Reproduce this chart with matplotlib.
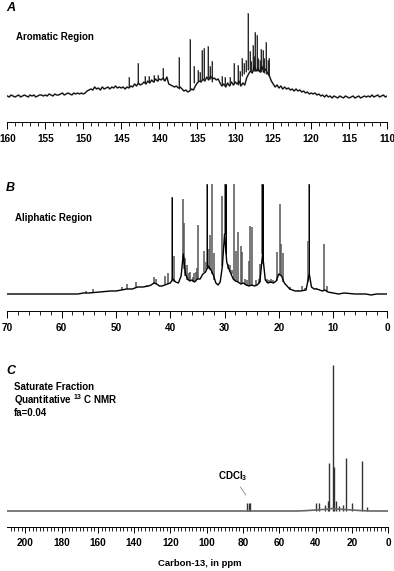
import matplotlib
matplotlib.use('Agg')
import numpy as np
import matplotlib.pyplot as plt
from matplotlib.ticker import MultipleLocator, FixedLocator

plt.rcParams['font.family'] = ['Liberation Sans', 'DejaVu Sans']
plt.rcParams['font.weight'] = 'bold'
plt.rcParams['mathtext.fontset'] = 'custom'
plt.rcParams['mathtext.bf'] = 'Liberation Sans:bold'

## Panel A - aromatic region, noisy trace read every 0.25 ppm
a_ppm = np.arange(160, 109.9, -0.25)
a_height = [0, -1, 1, 0, -1, 0, 1, -1, 0, 1, 0, -1, 1, 0, 1, -1, 0, 1, 1, 0,
            1, 0, 2, 1, 0, 2, 1, 1, 2, 3, 1, 2, 3, 2, 1, 3, 2, 3, 2, 3,
            2, 3, 5, 6, 7, 6, 9, 7, 8, 6, 9, 7, 8, 9, 7, 9, 8, 10, 8, 9,
            8, 9, 7, 9, 8, 10, 9, 12, 10, 13, 11, 12, 14, 12, 15, 13, 16, 14, 17, 15,
            17, 16, 18, 15, 19, 12, 11, 10, 9, 10, 8, 9, 7, 5, 6, 4, 5, 7, 6, 10,
            13, 15, 14, 17, 15, 19, 16, 20, 17, 18, 16, 17, 13, 10, 12, 9, 13, 10, 14, 11,
            14, 12, 15, 10, 13, 11, 18, 22, 25, 23, 30, 25, 28, 24, 30, 24, 27, 23, 20, 15,
            12, 9, 11, 8, 10, 7, 9, 7, 8, 6, 7, 5, 7, 5, 6, 4, 5, 3, 4, 2,
            3, 2, 3, 1, 2, 0, 1, -1, 1, -1, 0, -2, 0, -1, -2, 0, -1, -2, 0, -1,
            -2, -1, 0, -2, -1, 0, -2, -1, 0, -1, 0, -1, 1, -1, 0, 1, -1, 0, 1, -1, 0]
a_peak_ppm = [144.0, 142.75, 141.9, 141.3, 140.7, 140.2, 139.45, 137.4, 135.9, 135.4, 134.9, 134.7, 134.4, 134.05,
              133.6, 133.3, 133.05, 131.7, 131.3, 130.7, 130.2, 129.7, 129.4, 129.15, 128.9, 128.6, 128.35,
              128.1, 127.9, 127.7, 127.5, 127.35, 127.1, 126.95, 126.75, 126.6, 126.4, 126.2, 125.9, 125.75, 125.6]
a_peak_top = [19, 33, 20, 20, 21, 21, 28, 39, 57, 30, 26, 24, 46, 48,
              50, 30, 35, 20, 19, 19, 33, 31, 25, 38, 33, 36, 83,
              45, 35, 51, 40, 64, 61, 38, 36, 47, 46, 38, 54, 36, 38]
a_peak_base = [9, 12, 13, 14, 14, 15, 16, 7, 6, 13, 15, 15, 16, 17,
               18, 17, 14, 11, 11, 11, 12, 11, 12, 20, 22, 24, 26,
               26, 25, 25, 25, 25, 25, 25, 24, 24, 24, 23, 22, 21, 20]
a_ticks = [160, 155, 150, 145, 140, 135, 130, 125, 120, 115, 110]

## Panel B - aliphatic region
b_ppm = [70, 65, 60, 57, 56, 55, 53, 51, 50, 49, 48, 47, 46, 45, 44, 43.5, 43, 42.5, 42, 41.5, 41, 40.5, 40,
         39.5, 39, 38.5, 38, 37.6, 37.2, 36.8, 36.4, 36, 35.5, 35, 34.5, 34, 33.5, 33, 32.5, 32, 31.6, 31.2,
         30.8, 30.4, 30, 29.6, 29.2, 28.8, 28.4, 28, 27.5, 27, 26.5, 26, 25.5, 25, 24.5, 24, 23.5, 23, 22.5,
         22, 21.5, 21, 20.5, 20, 19.5, 19, 18.5, 18, 17, 16, 15, 14.7, 14.4, 14, 13.5, 13, 12.5, 12, 11.5, 11,
         10, 9, 8, 6, 4, 3, 2, 0]
b_height = [0, 0, 0, 0, 1, 1, 2, 3, 3, 4, 5, 5, 7, 7, 8, 9, 11, 10, 8, 8, 9, 10, 11,
            15, 12, 11, 18, 40, 20, 15, 13, 14, 12, 15, 15, 20, 22, 28, 24, 18, 11, 9,
            12, 28, 60, 32, 25, 20, 15, 13, 12, 10, 11, 9, 8, 9, 8, 9, 12, 40, 14,
            11, 12, 11, 13, 20, 18, 11, 8, 5, 3, 3, 4, 12, 20, 7, 5, 5, 4, 3, 4, 2,
            1, 0, 1, 0, 0, -1, 0, 0]
b_peak_ppm = [55.5, 54.2, 48.9, 48.0, 46.3, 44.3, 43.0, 42.6, 41.0, 40.5, 39.7, 39.3, 37.7, 37.5, 37.2, 36.9,
              36.6, 36.3, 35.9, 35.7, 35.3, 35.0, 34.8, 33.7, 33.4, 33.2, 32.8, 32.6, 32.3, 31.9, 30.4, 30.0, 29.7,
              29.3, 29.0, 28.7, 28.2, 27.9, 27.5, 27.0, 26.7, 26.2, 25.8, 25.5, 25.3, 24.9, 24.2, 23.7, 23.4,
              23.05, 22.9, 22.2, 21.8, 21.4, 21.0, 20.4, 19.8, 19.6, 19.3, 17.9, 17.2, 16.4, 15.7, 15.2, 14.6, 14.4,
              13.1, 12.7, 11.7, 11.1]
b_peak_top = [3, 5, 7, 10, 12, 9, 17, 15, 18, 21, 97, 38, 95, 71, 36, 29,
              21, 22, 17, 21, 22, 26, 69, 43, 32, 110, 45, 59, 110, 41, 98, 110, 110,
              30, 29, 24, 110, 43, 62, 48, 42, 15, 14, 33, 68, 67, 14, 15, 30,
              110, 110, 15, 14, 15, 14, 42, 90, 50, 41, 7, 4, 4, 8, 6, 53, 110,
              6, 5, 50, 8]
b_peak_base = [1, 2, 4, 5, 7, 8, 11, 10, 9, 10, 13, 12, 30, 25, 18, 14,
               13, 13, 12, 13, 14, 15, 15, 22, 24, 27, 25, 24, 20, 14, 28, 60, 40,
               25, 22, 20, 14, 13, 12, 11, 10, 9, 8, 8, 9, 8, 9, 10, 12,
               40, 30, 11, 11, 11, 11, 13, 20, 19, 12, 4, 3, 3, 3, 4, 12, 20,
               5, 4, 3, 2]
b_dark_ppm = [39.7, 33.2, 30.0, 29.8, 23.05, 22.9, 14.4]
b_dark_top = [97, 110, 110, 110, 110, 110, 110]
b_dark_base = [15, 28, 60, 40, 40, 30, 20]
b_ticks = [70, 60, 50, 40, 30, 20, 10, 0]

## Panel C - saturate fraction
c_peak_ppm = [77.7, 77.0, 76.4, 40.0, 38.0, 34.9, 33.4, 32.7, 30.3, 29.7, 28.6, 27.3, 25.0, 23.1, 20.2, 14.5, 11.7]
c_peak_top = [8, 8, 8, 8, 8, 6, 10, 48, 146, 44, 10, 5, 6, 53, 8, 50, 4]
c_base_ppm = [210, 60, 50, 45, 40, 36, 33, 31, 28, 24, 20, 16, 10, 0]
c_base_height = [0, 0, 0, 0.4, 1, 1.5, 2, 2.5, 2, 1.5, 1, 0.5, 0, 0]
c_ticks = [200, 180, 160, 140, 120, 100, 80, 60, 40, 20, 0]

W, H = 394, 571
fig = plt.figure(figsize=(W / 100, H / 100), dpi=100)


def panel(left, right, axis_y, base_y, top_y, xlim, ticks, minor, ticklen):
    # pixel box -> figure fractions, one y unit is one pixel
    ax = fig.add_axes([left / W, 1 - axis_y / H, (right - left) / W, (axis_y - top_y) / H])
    ax.set_xlim(*xlim)
    ax.set_ylim(base_y - axis_y, base_y - top_y)
    for s in ['top', 'left', 'right']:
        ax.spines[s].set_visible(False)
    ax.spines['bottom'].set_linewidth(0.7)
    ax.set_yticks([])
    ax.xaxis.set_major_locator(FixedLocator(ticks))
    ax.xaxis.set_minor_locator(MultipleLocator(minor))
    ax.tick_params(axis='x', which='major', length=ticklen[0], width=0.7, labelsize=7.2, pad=3.5)
    ax.tick_params(axis='x', which='minor', length=ticklen[1], width=0.6)
    ax.patch.set_alpha(0)
    return ax


axa = panel(7.3, 387.2, 122.5, 96, 8, (160, 110), a_ticks, 1, (5, 3.2))
axa.plot(a_ppm, a_height, color='#999999', lw=1.3)
axa.vlines(a_peak_ppm, a_peak_base, a_peak_top, color='#999999', lw=1.2)
axa.plot(a_ppm, a_height, color='black', lw=0.7)
axa.vlines(a_peak_ppm, a_peak_base, a_peak_top, color='#111111', lw=0.6)

axb = panel(7.3, 387.5, 310.7, 294, 184, (70, 0), b_ticks, 2, (5, 3.2))
axb.vlines(b_peak_ppm, b_peak_base, b_peak_top, color='#555555', lw=1.1)
axb.vlines(b_dark_ppm, b_dark_base, b_dark_top, color='black', lw=0.7)
axb.plot(b_ppm, b_height, color='black', lw=1.0)

axc = panel(7.3, 388.3, 527.3, 511, 364, (209.9, 0), c_ticks, 2, (4.5, 2.6))
axc.vlines(c_peak_ppm, 0, c_peak_top, color='#333333', lw=1.0)
axc.plot(c_base_ppm, c_base_height, color='#666666', lw=1.2)
axc.plot([81.5, 78.5], [24, 16], color='#888888', lw=0.6)

font = dict(fontsize=7.0, fontweight='bold', va='center', ha='left')
def label(x, y, s, **kw):
    fig.text(x / W, 1 - y / H, s, **{**font, **kw})

label(6, 8, 'A', fontsize=9, style='italic')
label(6, 188, 'B', fontsize=9, style='italic')
label(6, 370.5, 'C', fontsize=9, style='italic')
label(16, 36.5, 'Aromatic Region')
label(15, 217.5, 'Aliphatic Region')
label(14, 386.5, 'Saturate Fraction')
label(14, 400, 'Quantitative $^{\\mathbf{13}}$ C NMR')
label(14, 413.5, 'fa=0.04')
label(218, 476, 'CDCl$_{\\mathbf{3}}$')
label(199.5, 563, 'Carbon-13, in ppm', ha='center', fontsize=6.8)

fig.savefig('out.png', dpi=100)
